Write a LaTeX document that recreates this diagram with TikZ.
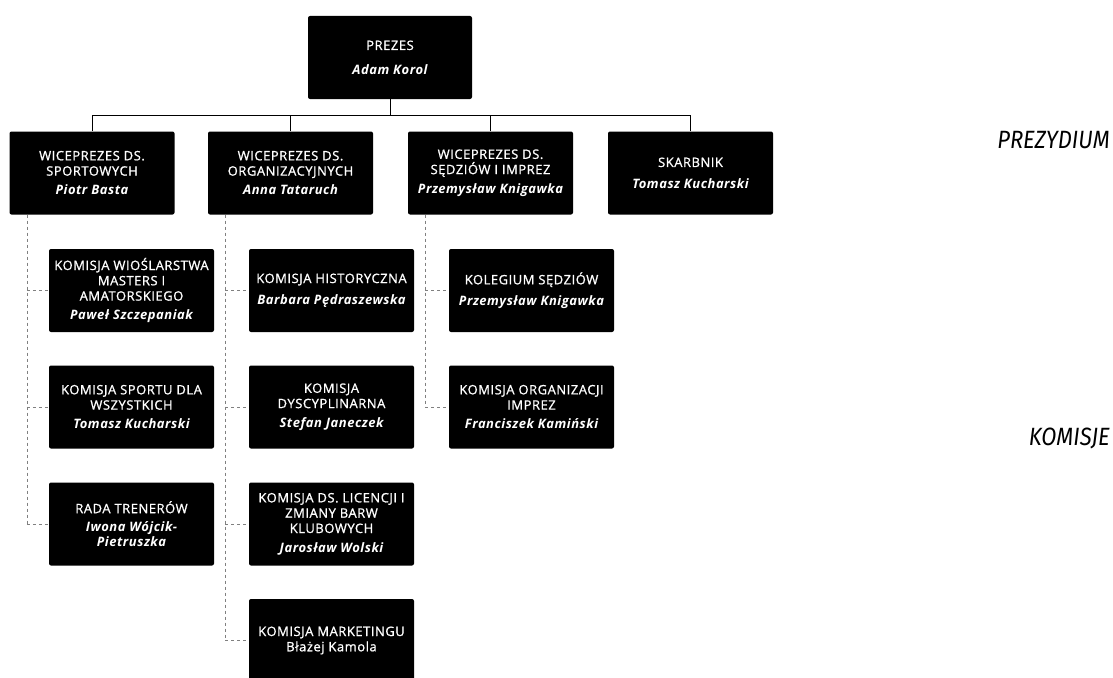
\documentclass[tikz,border=0pt]{standalone}
\usepackage{fontspec}
\newfontfamily\boxfont{Open Sans}[LetterSpace=4, UprightFeatures={FakeBold=1.0}]
\newfontfamily\labfont{Fira Sans}[FakeStretch=0.88]
\newcommand\pname[1]{{\bfseries\itshape #1}}
\begin{document}
\begin{tikzpicture}[x=1pt,y=-1pt,
  box/.style={rectangle, fill=black, text=white, rounded corners=2pt,
    minimum width=165pt, minimum height=83pt, inner sep=0pt, align=center,
    font=\boxfont\fontsize{13}{15.3}\selectfont},
  bus/.style={draw=black, line width=0.8pt},
  spine/.style={draw=black!50, line width=0.6pt, dash pattern=on 3pt off 3pt},
  lab/.style={font=\labfont\itshape\fontsize{25}{28}\selectfont, anchor=east, inner sep=0pt}]
\useasboundingbox (0,0) rectangle (1113,677);
\fill[white] (0,0) rectangle (1113,677);

% Prezydium
\node[box, minimum width=164pt] (prezes) at (390,57.5) {PREZES\\[9pt]\pname{Adam Korol}};
\node[box] (v1) at (92,173) {WICEPREZES DS.\\SPORTOWYCH\\[4pt]\pname{Piotr Basta}};
\node[box] (v2) at (290.5,173) {WICEPREZES DS.\\ORGANIZACYJNYCH\\[4pt]\pname{Anna Tataruch}};
\node[box] (v3) at (490.5,173) {WICEPREZES DS.\\SĘDZIÓW I IMPREZ\\[4pt]\pname{Przemysław Knigawka}};
\node[box] (v4) at (690.5,173) {SKARBNIK\\[6pt]\pname{Tomasz Kucharski}};

% Komisje
\node[box] (k11) at (131.5,290.5) {KOMISJA WIOŚLARSTWA\\MASTERS I\\AMATORSKIEGO\\[4pt]\pname{Paweł Szczepaniak}};
\node[box] (k12) at (131.5,407) {KOMISJA SPORTU DLA\\WSZYSTKICH\\[4pt]\pname{Tomasz Kucharski}};
\node[box] (k13) at (131.5,524) {RADA TRENERÓW\\[3pt]\pname{Iwona Wójcik-}\\\pname{Pietruszka}};
\node[box] (k21) at (331.5,290.5) {KOMISJA HISTORYCZNA\\[6pt]\pname{Barbara Pędraszewska}};
\node[box] (k22) at (331.5,407) {KOMISJA\\DYSCYPLINARNA\\[4pt]\pname{Stefan Janeczek}};
\node[box] (k23) at (331.5,524) {KOMISJA DS. LICENCJI I\\ZMIANY BARW\\KLUBOWYCH\\[4pt]\pname{Jarosław Wolski}};
\node[box] (k24) at (331.5,640.5) {KOMISJA MARKETINGU\\Błażej Kamola};
\node[box] (k31) at (531.5,290.5) {KOLEGIUM SĘDZIÓW\\[6pt]\pname{Przemysław Knigawka}};
\node[box] (k32) at (531.5,407) {KOMISJA ORGANIZACJI\\IMPREZ\\[4pt]\pname{Franciszek Kamiński}};

% top connectors
\coordinate (busy) at (0,115);
\draw[bus] (prezes.south) -- (prezes.south |- busy);
\draw[bus] (v1.north |- busy) -- (v4.north |- busy);
\foreach \nn in {v1,v2,v3,v4} \draw[bus] (\nn.north |- busy) -- (\nn.north);

% spines
\coordinate (s1) at ([xshift=17.5pt]v1.south west);
\coordinate (s2) at ([xshift=17.5pt]v2.south west);
\coordinate (s3) at ([xshift=17.5pt]v3.south west);
\draw[spine] (s1) -- (s1 |- k13.west);
\foreach \kk in {k11,k12,k13} \draw[spine] (s1 |- \kk.west) -- (\kk.west);
\draw[spine] (s2) -- (s2 |- k24.west);
\foreach \kk in {k21,k22,k23,k24} \draw[spine] (s2 |- \kk.west) -- (\kk.west);
\draw[spine] (s3) -- (s3 |- k32.west);
\foreach \kk in {k31,k32} \draw[spine] (s3 |- \kk.west) -- (\kk.west);

% side labels
\node[lab] (prez) at (1110,140) {PREZYDIUM};
\node[lab] (kom) at (1110,438) {KOMISJE};
\end{tikzpicture}
\end{document}
